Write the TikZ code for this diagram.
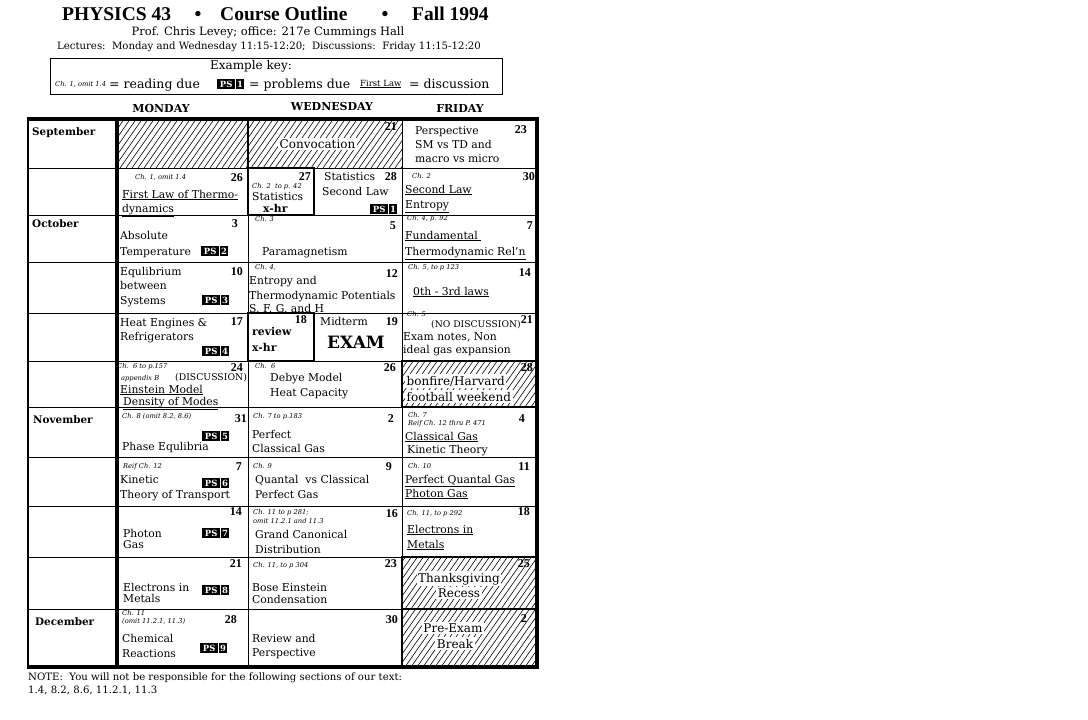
\documentclass[tikz,border=0pt]{standalone}
\usepackage{fontspec}
\setmainfont{DejaVu Serif}
\newfontfamily\titlefam{Liberation Serif}
\newcommand\cellf{\fontsize{10.8}{12}\selectfont}
\newcommand\bigf{\fontsize{12}{14}\selectfont}
\newcommand\chf{\fontsize{6.7}{7}\selectfont\itshape}
\newcommand\numf{\titlefam\fontsize{12}{12}\selectfont\bfseries}
\newcommand\monf{\fontsize{10.4}{12}\selectfont\bfseries}
\newcommand\hdf{\fontsize{11}{12}\selectfont\bfseries}
\newcommand\ttlf{\titlefam\fontsize{19.5}{22}\selectfont\bfseries}
\newcommand\keyf{\fontsize{12.5}{14}\selectfont}
\newcommand\exkf{\fontsize{12}{14}\selectfont}
\newcommand\lecf{\fontsize{10.15}{12}\selectfont}
\newcommand\proff{\fontsize{11.5}{13}\selectfont}
\newcommand\exf{\fontsize{17}{19}\selectfont\bfseries}
\newcommand\bxf{\fontsize{10.8}{12}\selectfont\bfseries}
\newcommand\smf{\fontsize{9.2}{11}\selectfont}
\newcommand\smbf{\fontsize{9.3}{10}\selectfont}
\newcommand\psdue[1]{{\setlength\fboxsep{1.5pt}\colorbox{black}{\makebox[15pt]{\textcolor{white}{\fontsize{8.5}{9}\selectfont\bfseries PS}}}\hspace{1pt}\colorbox{black}{\makebox[5pt]{\textcolor{white}{\fontsize{8.5}{9}\selectfont\bfseries #1}}}}}
\begin{document}
\begin{tikzpicture}[x=1pt,y=-1pt,
  tx/.style={anchor=base west, inner sep=0pt, font=\cellf},
  big/.style={anchor=base west, inner sep=0pt, font=\bigf},
  chn/.style={anchor=base west, inner sep=0pt, font=\chf},
  num/.style={anchor=base east, inner sep=0pt, font=\numf},
  mon/.style={anchor=base west, inner sep=0pt, font=\monf},
  hd/.style={anchor=base, inner sep=0pt, font=\hdf},
  bx/.style={anchor=base west, inner sep=0pt, font=\bxf},
  sm/.style={anchor=base west, inner sep=0pt, font=\smf},
  ps/.style={anchor=south west, inner sep=0pt},
  wbg/.style={fill=white, inner sep=1.5pt},
  gridthin/.style={line width=1pt},
  gridthick/.style={line width=2.5pt},
  hatchl/.style={line width=0.6pt}]
\fill[white] (0,0) rectangle (1088,720);
\useasboundingbox (0,0) rectangle (1088,720);
% hatching
\foreach \xa/\ya/\xb/\yb in {117/118/248/168, 248/118/402/168, 402/361/537/407, 402/557/537/609, 402/609/537/667}{
  \begin{scope}
    \clip (\xa,\ya) rectangle (\xb,\yb);
    \foreach \k in {0,...,36}{
      \draw[hatchl] ({\xa-45+6*\k},\yb) -- ({\xa-45+6*\k+0.7*(\yb-\ya)},\ya);
    }
  \end{scope}
}
% grid
\foreach \r in {168,215,262,313,361,407,457,506,557,609}{
  \draw[gridthin] (28,\r) -- (537,\r);
}
\draw[gridthin] (248,118) -- (248,667);
\draw[gridthin] (402,118) -- (402,667);
\draw[gridthick] (248,118) -- (248,168);
\draw[gridthick] (248,168) rectangle (314,215);
\draw[gridthick] (248,313) rectangle (314,361);
\draw[line width=2pt] (402,361) rectangle (537,407);
\draw[line width=2pt] (402,557) rectangle (537,609);
\draw[line width=2pt] (402,609) rectangle (537,667);
\draw[line width=4pt] (26.5,118.5) -- (539,118.5);
\draw[line width=4pt] (537,116.5) -- (537,669);
\draw[line width=4pt] (26.5,667) -- (539,667);
\draw[line width=2.5pt] (28,117) -- (28,669);
\draw[line width=3.5pt] (117,118) -- (117,667);
% header
\node[anchor=base west, inner sep=0pt, font=\ttlf] (ttlA) at (62,20) {PHYSICS 43};
\node[anchor=base, inner sep=0pt, font=\ttlf] (dotA) at (198,20) {•};
\node[anchor=base west, inner sep=0pt, font=\ttlf] (ttlB) at (220,20) {Course Outline};
\node[anchor=base, inner sep=0pt, font=\ttlf] (dotB) at (385,20) {•};
\node[anchor=base west, inner sep=0pt, font=\ttlf] (ttlC) at (412,20) {Fall 1994};
\node[anchor=base, inner sep=0pt, font=\proff] (prof) at (268,35) {Prof. Chris Levey; office: 217e Cummings Hall};
\node[anchor=base, inner sep=0pt, font=\lecf] (lect) at (269,49) {Lectures:\ \ Monday and Wednesday 11:15-12:20;\ \ Discussions:\ \ Friday 11:15-12:20};
\draw[line width=1pt] (50,58) rectangle (502,94);
\node[anchor=base, inner sep=0pt, font=\exkf] (exkey) at (251,69) {Example key:};
\node[chn] (k1) at (55,86) {Ch. 1, omit 1.4};
\node[anchor=base west, inner sep=0pt, font=\keyf] (k2) at (109,88) {= reading due};
\node[ps] (k3) at (217,89) {\psdue{1}};
\node[anchor=base west, inner sep=0pt, font=\keyf] (k4) at (249,88) {= problems due};
\node[anchor=base west, inner sep=0pt, font=\fontsize{8.5}{9}\selectfont] (k5) at (360,86) {\underline{First Law}};
\node[anchor=base west, inner sep=0pt, font=\keyf] (k6) at (409,88) {= discussion};
\node[hd] (hmon) at (161,112) {MONDAY};
\node[hd] (hwed) at (332,110) {WEDNESDAY};
\node[hd] (hfri) at (460,112) {FRIDAY};
% row 1
\node[mon] (m1) at (32,135) {September};
\node[big,wbg] (a1) at (278,148) {Convocation};
\node[num] (a2) at (397,130) {21};
\node[tx] (a3) at (415,134) {Perspective};
\node[tx] (a4) at (415,148) {SM vs TD and};
\node[tx] (a5) at (415,162) {macro vs micro};
\node[num] (a6) at (527,133) {23};
% row 2
\node[chn] (b1) at (135,179) {Ch. 1, omit 1.4};
\node[num] (b2) at (243,181) {26};
\node[tx] (b3) at (122,198) {\underline{First Law of Thermo-}};
\node[tx] (b4) at (122,212) {\underline{dynamics}};
\node[chn] (b5) at (252,188) {Ch. 2\ \ to p. 42};
\node[num] (b6) at (311,180) {27};
\node[tx] (b7) at (252,200) {Statistics};
\node[bx] (b8) at (263,212) {x-hr};
\node[tx] (b9) at (324,180) {Statistics};
\node[tx] (b10) at (322,195) {Second Law};
\node[num] (b11) at (397,180) {28};
\node[ps] (b12) at (370,214) {\psdue{1}};
\node[chn] (b13) at (412,178) {Ch. 2};
\node[num] (b14) at (535,180) {30};
\node[tx] (b15) at (405,193) {\underline{Second Law}};
\node[tx] (b16) at (405,208) {\underline{Entropy}};
% row 3
\node[mon] (m2) at (32,227) {October};
\node[num] (c1) at (238,227) {3};
\node[tx] (c2) at (120,239) {Absolute};
\node[tx] (c3) at (120,255) {Temperature};
\node[ps] (c4) at (201,256) {\psdue{2}};
\node[chn] (c5) at (255,221) {Ch. 3};
\node[num] (c6) at (396,229) {5};
\node[tx] (c7) at (262,255) {Paramagnetism};
\node[chn] (c8) at (407,220) {Ch. 4, p. 92};
\node[num] (c9) at (533,229) {7};
\node[tx] (c10) at (405,239) {\underline{Fundamental\ }};
\node[tx] (c11) at (405,255) {\underline{Thermodynamic Rel'n}};
% row 4
\node[tx] (d1) at (120,275) {Equlibrium};
\node[tx] (d2) at (120,289) {between};
\node[tx] (d3) at (120,304) {Systems};
\node[ps] (d4) at (202,305) {\psdue{3}};
\node[num] (d5) at (243,275) {10};
\node[chn] (d6) at (255,269) {Ch. 4,};
\node[num] (d7) at (398,277) {12};
\node[tx] (d8) at (249,284) {Entropy and};
\node[tx] (d9) at (249,299) {Thermodynamic Potentials};
\node[tx] (d10) at (249,312) {S, F, G, and H};
\node[chn] (d11) at (408,269) {Ch. 5, to p 123};
\node[num] (d12) at (531,276) {14};
\node[tx] (d13) at (413,295) {\underline{0th - 3rd laws}};
% row 5
\node[tx] (e1) at (120,326) {Heat Engines \&};
\node[tx] (e2) at (120,340) {Refrigerators};
\node[num] (e3) at (243,325) {17};
\node[ps] (e4) at (202,356) {\psdue{4}};
\node[num] (e5) at (307,323) {18};
\node[bx] (e6) at (252,335) {review};
\node[bx] (e7) at (252,351) {x-hr};
\node[tx] (e8) at (320,325) {Midterm};
\node[num] (e9) at (398,325) {19};
\node[anchor=base west, inner sep=0pt, font=\exf] (e10) at (327,348) {EXAM};
\node[chn] (e11) at (407,316) {Ch. 5};
\node[sm] (e12) at (431,327) {(NO DISCUSSION)};
\node[num] (e13) at (533,323) {21};
\node[tx] (e14) at (403,340) {Exam notes, Non};
\node[tx] (e15) at (403,353) {ideal gas expansion};
% row 6
\node[chn] (f1) at (117,368) {Ch.\ \ 6 to p.157};
\node[chn] (f2) at (121,380) {appendix B};
\node[anchor=base west, inner sep=0pt, font=\smbf] (f3) at (175,380) {(DISCUSSION)};
\node[num] (f4) at (243,371) {24};
\node[tx] (f5) at (120,393) {\underline{Einstein Model}};
\node[tx] (f6) at (123,405) {\underline{Density of Modes}};
\node[chn] (f7) at (255,368) {Ch.\ \ 6};
\node[num] (f8) at (396,371) {26};
\node[tx] (f9) at (270,381) {Debye Model};
\node[tx] (f10) at (270,396) {Heat Capacity};
\node[big,wbg] (f11) at (405,385) {bonfire/Harvard};
\node[big,wbg] (f12) at (405,401) {football weekend};
\node[num] (f13) at (533,371) {28};
% row 7
\node[mon] (m3) at (33,423) {November};
\node[chn] (g1) at (122,418) {Ch. 8 (omit 8.2, 8.6)};
\node[num] (g2) at (247,422) {31};
\node[ps] (g3) at (202,441) {\psdue{5}};
\node[tx] (g4) at (122,450) {Phase Equlibria};
\node[chn] (g5) at (253,418) {Ch. 7 to p.183};
\node[num] (g6) at (394,422) {2};
\node[tx] (g7) at (252,438) {Perfect};
\node[tx] (g8) at (252,452) {Classical Gas};
\node[chn] (g9) at (408,417) {Ch. 7};
\node[chn] (g10) at (408,425) {Reif Ch. 12 thru P. 471};
\node[num] (g11) at (525,422) {4};
\node[tx] (g12) at (405,440) {\underline{Classical Gas}};
\node[tx] (g13) at (407,453) {\underline{Kinetic Theory}};
% row 8
\node[chn] (h1) at (123,468) {Reif Ch. 12};
\node[num] (h2) at (242,470) {7};
\node[tx] (h3) at (120,483) {Kinetic};
\node[tx] (h4) at (120,498) {Theory of Transport};
\node[ps] (h5) at (202,488) {\psdue{6}};
\node[chn] (h6) at (253,468) {Ch. 9};
\node[num] (h7) at (392,470) {9};
\node[tx] (h8) at (255,483) {Quantal\ \ vs Classical};
\node[tx] (h9) at (255,498) {Perfect Gas};
\node[chn] (h10) at (408,468) {Ch. 10};
\node[num] (h11) at (530,470) {11};
\node[tx] (h12) at (405,483) {\underline{Perfect Quantal Gas}};
\node[tx] (h13) at (405,497) {\underline{Photon Gas}};
% row 9
\node[num] (i1) at (242,515) {14};
\node[tx] (i2) at (123,537) {Photon};
\node[tx] (i3) at (123,548) {Gas};
\node[ps] (i4) at (202,538) {\psdue{7}};
\node[chn] (i5) at (253,514) {Ch. 11 to p 281;};
\node[chn] (i6) at (253,523) {omit 11.2.1 and 11.3};
\node[num] (i7) at (398,517) {16};
\node[tx] (i8) at (255,538) {Grand Canonical};
\node[tx] (i9) at (255,553) {Distribution};
\node[chn] (i10) at (407,515) {Ch. 11, to p 292};
\node[num] (i11) at (530,515) {18};
\node[tx] (i12) at (407,533) {\underline{Electrons in}};
\node[tx] (i13) at (407,548) {\underline{Metals}};
% row 10
\node[num] (j1) at (242,567) {21};
\node[tx] (j2) at (123,591) {Electrons in};
\node[tx] (j3) at (123,602) {Metals};
\node[ps] (j4) at (202,595) {\psdue{8}};
\node[chn] (j5) at (253,567) {Ch. 11, to p 304};
\node[num] (j6) at (397,567) {23};
\node[tx] (j7) at (252,591) {Bose Einstein};
\node[tx] (j8) at (252,603) {Condensation};
\node[big,wbg,anchor=base] (j9) at (459,582) {Thanksgiving};
\node[big,wbg,anchor=base] (j10) at (459,597) {Recess};
\node[num] (j11) at (530,567) {25};
% row 11
\node[mon] (m4) at (35,625) {December};
\node[chn] (k7) at (122,615) {Ch. 11};
\node[chn] (k8) at (122,623) {(omit 11.2.1, 11.3)};
\node[num] (k9) at (237,623) {28};
\node[tx] (k10) at (122,642) {Chemical};
\node[tx] (k11) at (122,657) {Reactions};
\node[ps] (k12) at (200,653) {\psdue{9}};
\node[num] (k13) at (398,623) {30};
\node[tx] (k14) at (252,642) {Review and};
\node[tx] (k15) at (252,656) {Perspective};
\node[big,wbg,anchor=base] (k16) at (453,632) {Pre-Exam};
\node[big,wbg,anchor=base] (k17) at (455,648) {Break};
\node[num] (k18) at (527,622) {2};
% footer
\node[anchor=base west, inner sep=0pt, font=\lecf] (note1) at (28,680) {NOTE:\ \ You will not be responsible for the following sections of our text:};
\node[anchor=base west, inner sep=0pt, font=\lecf] (note2) at (28,693) {1.4, 8.2, 8.6, 11.2.1, 11.3};
\end{tikzpicture}
\end{document}
